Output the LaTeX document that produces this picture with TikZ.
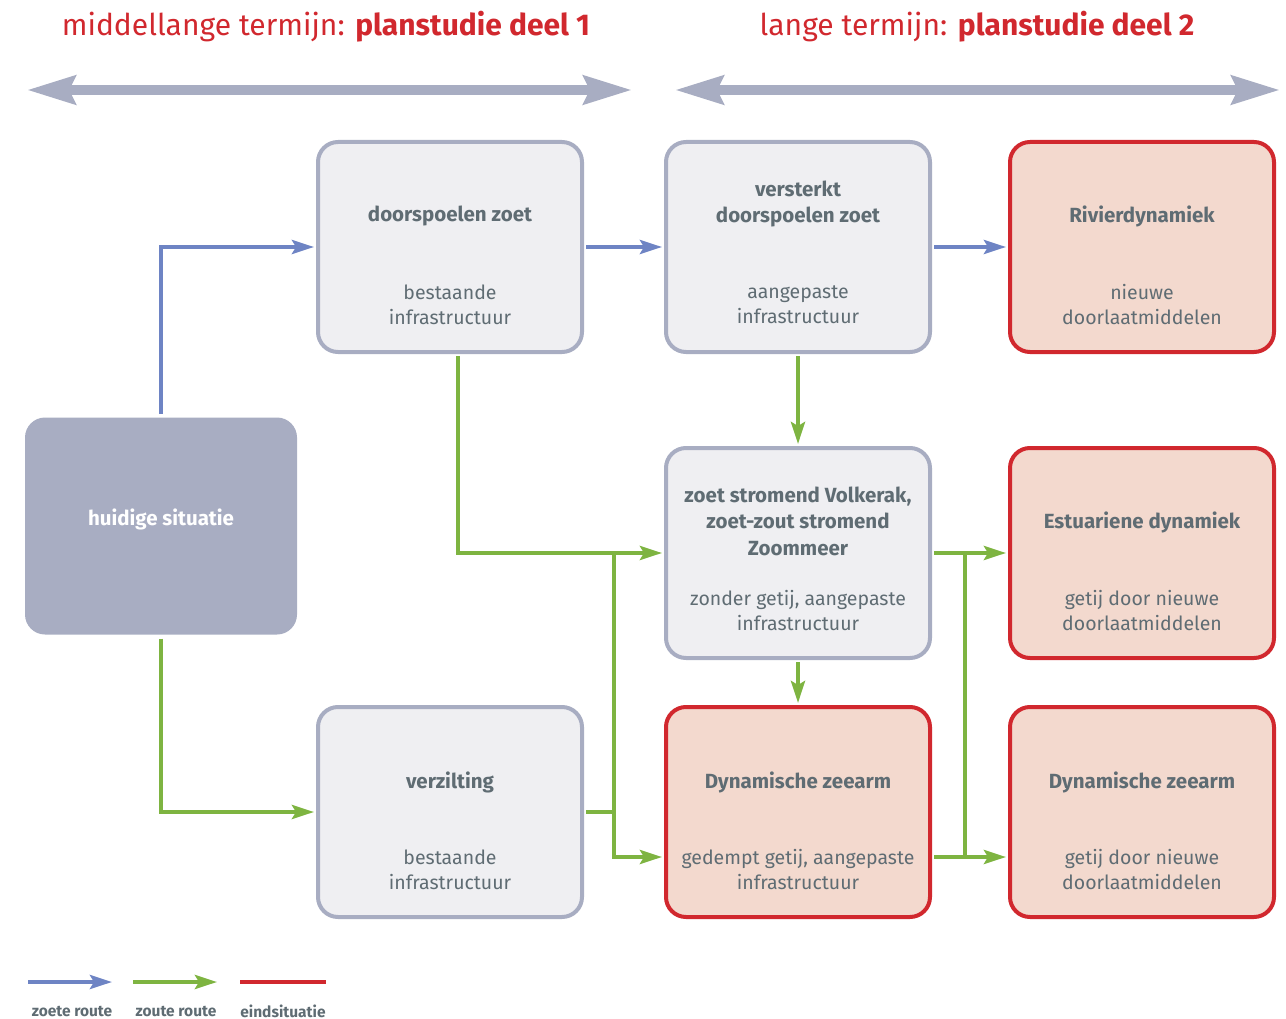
\documentclass[tikz,border=0pt]{standalone}
\usepackage{fontspec}
\setmainfont{Fira Sans}
\usetikzlibrary{arrows.meta,positioning}

\definecolor{zoet}{HTML}{6E84C4}
\definecolor{zout}{HTML}{7EB441}
\definecolor{eind}{HTML}{D1282E}
\definecolor{kader}{HTML}{A8ADC2}
\definecolor{vlak}{HTML}{EFEFF2}
\definecolor{roze}{HTML}{F3D9CE}
\definecolor{tekst}{HTML}{5F6C73}

\tikzset{
  box/.style={draw=kader, fill=vlak, line width=4pt, rounded corners=20pt,
    minimum width=264pt, minimum height=210pt, inner sep=0pt},
  eindbox/.style={box, draw=eind, fill=roze},
  kop/.style={font=\fontsize{20.5}{26.5}\selectfont\bfseries, text=tekst, align=center},
  sub/.style={font=\fontsize{19.5}{25}\selectfont, text=tekst, align=center},
  lijn/.style={line width=4pt, shorten <=2pt},
  pijl/.style={lijn, shorten >=2pt, -{Stealth[length=22pt,width=14pt,inset=4pt]}},
  zoetpijl/.style={pijl, draw=zoet},
  zoutpijl/.style={pijl, draw=zout},
  zoutlijn/.style={lijn, draw=zout},
  termijn/.style={draw=kader, line width=10pt,
    {Stealth[length=48pt,width=28pt,inset=6pt]}-{Stealth[length=48pt,width=28pt,inset=6pt]}},
  titel/.style={text=eind, font=\fontsize{30}{34}\selectfont},
  legenda/.style={font=\fontsize{15.5}{18}\selectfont\bfseries, text=tekst}
}

\begin{document}
\begin{tikzpicture}[x=1pt, y=-1pt]
  \useasboundingbox (0,0) rectangle (1286,1019);

  % tijdsas
  \node[titel] (titel1) at (326,27) {middellange termijn: \textbf{planstudie deel 1}};
  \node[titel] (titel2) at (977,27) {lange termijn: \textbf{planstudie deel 2}};
  \coordinate (t1a) at (27,90);
  \coordinate (t1b) at (632,90);
  \coordinate (t2a) at (675,90);
  \coordinate (t2b) at (1280,90);
  \draw[termijn] (t1a) -- (t1b);
  \draw[termijn] (t2a) -- (t2b);

  % blokken
  \node[box, draw=none, fill=kader, minimum width=272pt, minimum height=217pt] (huidig) at (161,526) {};
  \node[box] (doorsp) at (450,247) {};
  \node[box] (verst) at (798,247) {};
  \node[eindbox] (rivier) at (1142,247) {};
  \node[box] (zoetstr) at (798,553) {};
  \node[eindbox] (estu) at (1142,553) {};
  \node[box] (verzil) at (450,812) {};
  \node[eindbox] (zeearm) at (798,812) {};
  \node[eindbox] (zeearm2) at (1142,812) {};

  % teksten
  \node[kop, text=white] (k-huidig) at ([yshift=7pt]huidig.center) {huidige situatie};
  \node[kop] (k-doorsp) at ([yshift=31pt]doorsp.center) {doorspoelen zoet};
  \node[sub] (s-doorsp) at ([yshift=-58pt]doorsp.center) {bestaande\\infrastructuur};
  \node[kop] (k-verst) at ([yshift=43pt]verst.center) {versterkt\\doorspoelen zoet};
  \node[sub] (s-verst) at ([yshift=-58pt]verst.center) {aangepaste\\infrastructuur};
  \node[kop] (k-rivier) at ([yshift=31pt]rivier.center) {Rivierdynamiek};
  \node[sub] (s-rivier) at ([yshift=-58pt]rivier.center) {nieuwe\\doorlaatmiddelen};
  \node[kop] (k-zoetstr) at ([yshift=32pt]zoetstr.center) {zoet stromend Volkerak,\\zoet-zout stromend\\Zoommeer};
  \node[sub] (s-zoetstr) at ([yshift=-58pt]zoetstr.center) {zonder getij, aangepaste\\infrastructuur};
  \node[kop] (k-estu) at ([yshift=31pt]estu.center) {Estuariene dynamiek};
  \node[sub] (s-estu) at ([yshift=-58pt]estu.center) {getij door nieuwe\\doorlaatmiddelen};
  \node[kop] (k-verzil) at ([yshift=30pt]verzil.center) {verzilting};
  \node[sub] (s-verzil) at ([yshift=-58pt]verzil.center) {bestaande\\infrastructuur};
  \node[kop] (k-zeearm) at ([yshift=30pt]zeearm.center) {Dynamische zeearm};
  \node[sub] (s-zeearm) at ([yshift=-58pt]zeearm.center) {gedempt getij, aangepaste\\infrastructuur};
  \node[kop] (k-zeearm2) at ([yshift=30pt]zeearm2.center) {Dynamische zeearm};
  \node[sub] (s-zeearm2) at ([yshift=-58pt]zeearm2.center) {getij door nieuwe\\doorlaatmiddelen};

  % zoete route
  \draw[zoetpijl] (huidig.north) |- (doorsp.west);
  \draw[zoetpijl] (doorsp.east) -- (verst.west);
  \draw[zoetpijl] (verst.east) -- (rivier.west);

  % zoute route
  \coordinate (s1) at (614,553);
  \coordinate (s2) at (965,553);
  \coordinate (z1) at ([yshift=-45pt]zeearm.west);
  \coordinate (z2) at ([yshift=-45pt]zeearm.east);
  \coordinate (z3) at ([yshift=-45pt]zeearm2.west);
  \draw[zoutpijl] (verst.south) -- (zoetstr.north);
  \draw[zoutpijl] ([xshift=8pt]doorsp.south) |- (zoetstr.west);
  \draw[zoutpijl] (huidig.south) |- (verzil.west);
  \draw[zoutlijn] (verzil.east) -- (verzil.east -| s1);
  \draw[zoutpijl, shorten <=0pt] (s1) |- (z1);
  \draw[zoutpijl] (zoetstr.south) -- (zeearm.north);
  \draw[zoutpijl] (zoetstr.east) -- (estu.west);
  \draw[zoutpijl] (z2) -- (z3);
  \draw[zoutlijn, shorten <=0pt] (s2) -- (s2 |- z2);

  % legenda
  \coordinate (l1a) at (28,982);
  \coordinate (l1b) at (112,982);
  \coordinate (l2a) at (133,982);
  \coordinate (l2b) at (217,982);
  \coordinate (l3a) at (240,982);
  \coordinate (l3b) at (326,982);
  \draw[zoetpijl, shorten <=0pt, shorten >=0pt] (l1a) -- (l1b);
  \draw[zoutpijl, shorten <=0pt, shorten >=0pt] (l2a) -- (l2b);
  \draw[lijn, draw=eind, shorten <=0pt] (l3a) -- (l3b);
  \node[legenda] (lg1) at (72,1011) {zoete route};
  \node[legenda] (lg2) at (176,1011) {zoute route};
  \node[legenda] (lg3) at (283,1011) {eindsituatie};
\end{tikzpicture}
\end{document}
